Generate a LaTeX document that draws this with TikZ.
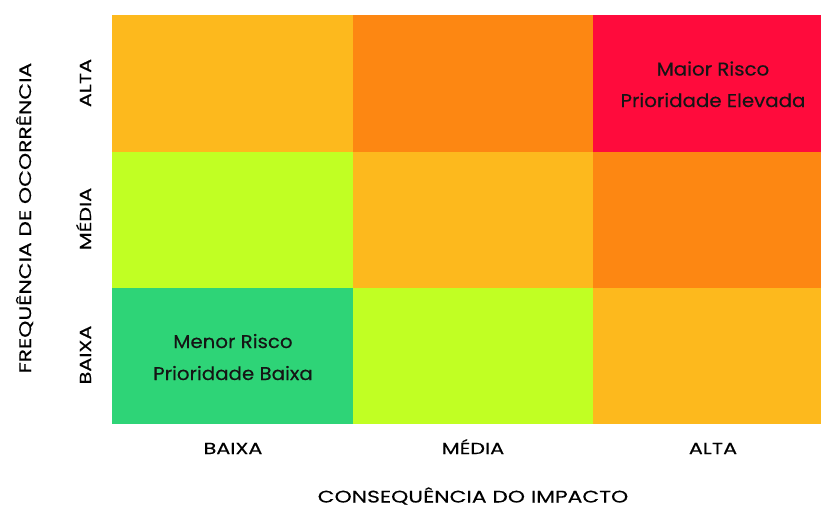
\documentclass[tikz,border=0pt]{standalone}
\usepackage{fontspec}
\setmainfont{Poppins}
\newfontfamily\capsfont[FakeStretch=1.3,FakeBold=0.3]{Poppins}
\newfontfamily\titlefont[FakeStretch=1.3,FakeBold=0.3]{Poppins}
\newfontfamily\cellfont[FakeStretch=1.07,FakeBold=0.3]{Poppins}
\definecolor{cyel}{HTML}{FDB91D}
\definecolor{cora}{HTML}{FD8712}
\definecolor{cred}{HTML}{FF0B3C}
\definecolor{clime}{HTML}{C1FF23}
\definecolor{cgrn}{HTML}{2ED477}
\definecolor{ctxt}{HTML}{151515}
\begin{document}
\begin{tikzpicture}[x=1pt,y=-1pt,
  celltxt/.style={anchor=base,inner sep=0pt,font=\cellfont\fontsize{18.5}{22}\selectfont,text=ctxt},
  axlab/.style={anchor=base,inner sep=0pt,font=\capsfont\fontsize{16}{18}\selectfont,text=black},
  axtitle/.style={anchor=base,inner sep=0pt,font=\titlefont\fontsize{16.8}{19}\selectfont,text=black}]
\useasboundingbox (0,0) rectangle (821,504);
\clip (0,0) rectangle (821,504);
% row 1
\fill[cyel]  (112,15) rectangle (353.5,152.5);
\fill[cora]  (353,15) rectangle (593.5,152.5);
\fill[cred]  (593,15) rectangle (821,152.5);
% row 2
\fill[clime] (112,152) rectangle (353.5,288.5);
\fill[cyel]  (353,152) rectangle (593.5,288.5);
\fill[cora]  (593,152) rectangle (821,288.5);
% row 3
\fill[cgrn]  (112,288) rectangle (353.5,424);
\fill[clime] (353,288) rectangle (593.5,424);
\fill[cyel]  (593,288) rectangle (821,424);
% cell texts
\node[celltxt] (t13a) at (713,75.5) {Maior Risco};
\node[celltxt] (t13b) at (713,107) {Prioridade Elevada};
\node[celltxt] (t31a) at (233,348) {Menor Risco};
\node[celltxt] (t31b) at (233,380) {Prioridade Baixa};
% row labels
\node[axlab,rotate=90] (ralta) at (91,83) {ALTA};
\node[axlab,rotate=90] (rmedia) at (91,219) {MÉDIA};
\node[axlab,rotate=90] (rbaixa) at (91,355) {BAIXA};
% column labels
\node[axlab] (cbaixa) at (233,454) {BAIXA};
\node[axlab] (cmedia) at (473,454) {MÉDIA};
\node[axlab] (calta) at (713,454) {ALTA};
% axis titles
\node[axtitle,rotate=90] (ytitle) at (31,218) {FREQUÊNCIA DE OCORRÊNCIA};
\node[axtitle] (xtitle) at (473,502.5) {CONSEQUÊNCIA DO IMPACTO};
\end{tikzpicture}
\end{document}
